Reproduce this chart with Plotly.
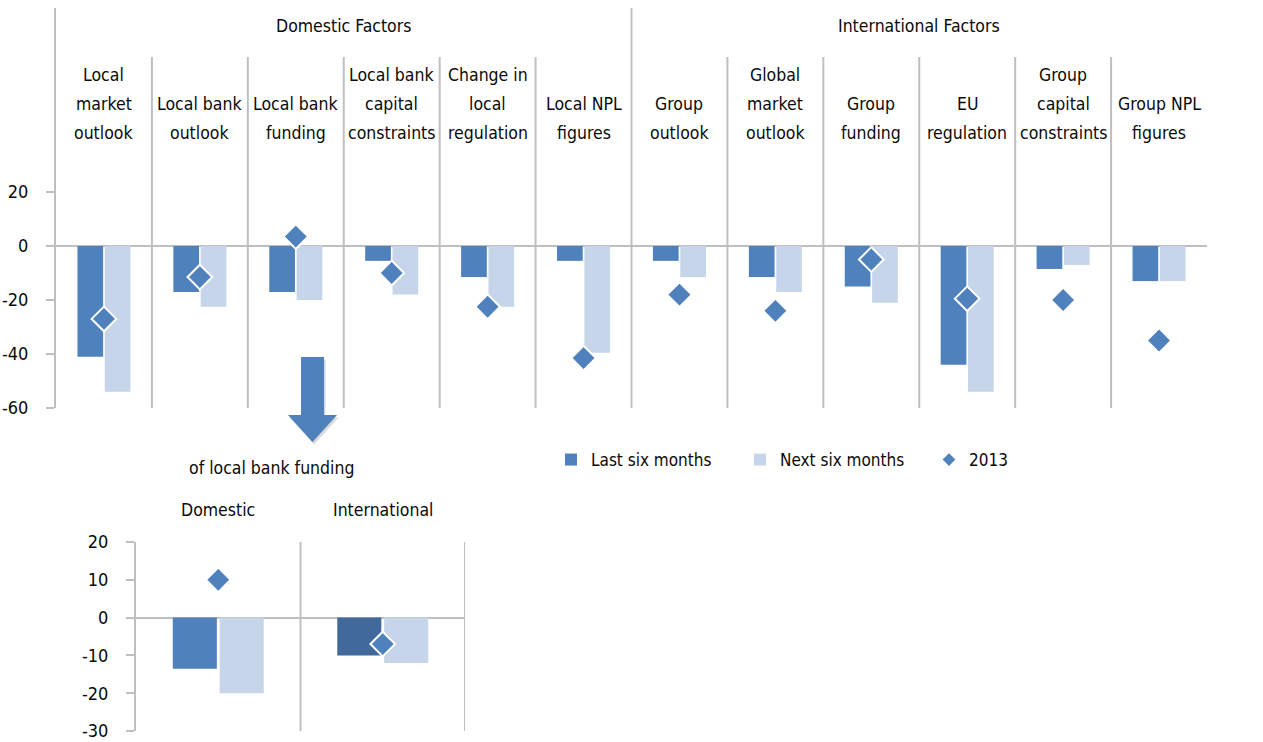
import plotly.graph_objects as go

# ---- data ----
factors = [
    "Local market outlook", "Local bank outlook", "Local bank funding",
    "Local bank capital constraints", "Change in local regulation", "Local NPL figures",
    "Group outlook", "Global market outlook", "Group funding", "EU regulation",
    "Group capital constraints", "Group NPL figures",
]
factor_labels = [
    ["Local", "market", "outlook"], ["Local bank", "outlook"], ["Local bank", "funding"],
    ["Local bank", "capital", "constraints"], ["Change in", "local", "regulation"],
    ["Local NPL", "figures"],
    ["Group", "outlook"], ["Global", "market", "outlook"], ["Group", "funding"],
    ["EU", "regulation"], ["Group", "capital", "constraints"], ["Group NPL", "figures"],
]
last_six = [-41, -17, -17, -5.5, -11.5, -5.5, -5.5, -11.5, -15, -44, -8.5, -13]
next_six = [-54, -22.5, -20, -18, -22.5, -39.5, -11.5, -17, -21, -54, -7, -13]
y2013 = [-27, -11.5, 3.5, -10, -22.5, -41.5, -18, -24, -5, -19.5, -20, -35]
groups = ["Domestic Factors", "International Factors"]

funding_cats = ["Domestic", "International"]
funding_last = [-13.5, -10]
funding_next = [-20, -12]
funding_2013 = [10, -7]

top_ticks = [20, 0, -20, -40, -60]
bottom_ticks = [20, 10, 0, -10, -20, -30]
series_names = ["Last six months", "Next six months", "2013"]

# ---- style ----
W, H = 1263, 742
FONT = "DejaVu Sans Condensed, Liberation Sans Narrow, sans-serif"
FS = 17.5
C_LAST = "#4F81BD"
C_LAST_DARK = "#41699B"
C_NEXT = "#C6D5EA"
C_GRID = "#BFBFBF"
TXT = "#0A0A0A"


def px(x):
    return x / W


def py(y):
    return 1 - y / H


def tfont(size=FS):
    return dict(family=FONT, size=size, color=TXT)


fig = go.Figure()

# top panel
fig.add_trace(go.Bar(x=factors, y=last_six, name=series_names[0], marker_color=C_LAST,
                     xaxis="x", yaxis="y"))
fig.add_trace(go.Bar(x=factors, y=next_six, name=series_names[1], marker_color=C_NEXT,
                     xaxis="x", yaxis="y"))
fig.add_trace(go.Scatter(x=factors, y=y2013, name=series_names[2], mode="markers",
                         marker=dict(symbol="diamond", size=19, color=C_LAST,
                                     line=dict(color="white", width=2)),
                         xaxis="x", yaxis="y"))

# bottom panel
fig.add_trace(go.Bar(x=funding_cats, y=funding_last, showlegend=False,
                     marker_color=[C_LAST, C_LAST_DARK], xaxis="x3", yaxis="y3"))
fig.add_trace(go.Bar(x=funding_cats, y=funding_next, showlegend=False,
                     marker_color=C_NEXT, xaxis="x3", yaxis="y3"))
fig.add_trace(go.Scatter(x=funding_cats, y=funding_2013, mode="markers", showlegend=False,
                         marker=dict(symbol="diamond", size=19, color=C_LAST,
                                     line=dict(color="white", width=2)),
                         xaxis="x3", yaxis="y3"))

# top panel geometry: value -60 at 408px, 20 at 192px, axis runs up to 8px
top_bot_px, top_top_px, zero_px, ppu = 408, 8, 246, 2.7
top_max = (zero_px - top_top_px) / ppu
inner_top = (zero_px - 57) / ppu

yaxis_common = dict(
    showgrid=False, zeroline=True, zerolinecolor=C_GRID, zerolinewidth=2,
    showline=True, linecolor=C_GRID, linewidth=2, automargin=False,
    ticks="outside", ticklen=8, tickcolor=C_GRID, tickwidth=2,
    tickfont=tfont(18), fixedrange=True,
)
xaxis_common = dict(showticklabels=False, showgrid=False, zeroline=False, ticks="",
                    automargin=False, fixedrange=True)

fig.update_layout(
    template="none",
    width=W, height=H,
    margin=dict(l=0, r=0, t=0, b=0, pad=0),
    paper_bgcolor="white", plot_bgcolor="white",
    font=dict(family=FONT, color=TXT),
    barmode="group", bargap=0.43, bargroupgap=0.06,
    xaxis=dict(domain=[px(56), px(1207)], range=[-0.5, 11.5], anchor="y", **xaxis_common),
    yaxis=dict(domain=[py(top_bot_px), py(top_top_px)], range=[-60, top_max], anchor="x",
               tickvals=top_ticks, ticktext=[str(v) for v in top_ticks],
               ticklabelstandoff=14, **yaxis_common),
    yaxis2=dict(overlaying="y", side="right", anchor="x", range=[-60, top_max],
                tickvals=top_ticks, ticktext=[str(v) for v in top_ticks],
                ticklabelstandoff=12, **yaxis_common),
    xaxis3=dict(domain=[px(136), px(465)], range=[-0.5, 1.5], anchor="y3", **xaxis_common),
    yaxis3=dict(domain=[py(731), py(542)], range=[-30, 20], anchor="x3",
                tickvals=bottom_ticks, ticktext=[str(v) for v in bottom_ticks],
                ticklabelstandoff=14, **yaxis_common),
    legend=dict(orientation="h", x=px(551), y=py(460), xanchor="left", yanchor="middle",
                font=tfont(17), itemsizing="constant", itemwidth=30,
                entrywidth=144, entrywidthmode="pixels", traceorder="normal",
                bgcolor="rgba(0,0,0,0)", borderwidth=0),
    showlegend=True,
)

shapes = []
# category separators in the top panel
for k in range(len(factors) - 1):
    top = top_max if k == 5 else inner_top
    shapes.append(dict(type="line", xref="x", yref="y", x0=k + 0.5, x1=k + 0.5,
                       y0=-60, y1=top, line=dict(color=C_GRID, width=2)))
# separators in the bottom panel
for k in range(len(funding_cats)):
    shapes.append(dict(type="line", xref="x3", yref="y3", x0=k + 0.5, x1=k + 0.5,
                       y0=-30, y1=20, line=dict(color=C_GRID, width=2)))


# arrow pointing from "Local bank funding" down to the breakdown panel
def arrow_path(dx=0, dy=0):
    pts = [(301, 357), (324, 357), (324, 415), (337, 415), (312.5, 442),
           (288, 415), (301, 415)]
    return "M " + " L ".join(f"{px(x + dx):.5f},{py(y + dy):.5f}" for x, y in pts) + " Z"


shapes.append(dict(type="path", xref="paper", yref="paper", path=arrow_path(1.5, 2.5),
                   fillcolor="rgba(0,0,0,0.15)", line=dict(width=0), layer="below"))
shapes.append(dict(type="path", xref="paper", yref="paper", path=arrow_path(),
                   fillcolor=C_LAST, line=dict(width=0)))
fig.update_layout(shapes=shapes)

ann = []
# category headers, bottom-aligned, one annotation per text line
LINE_H, LAST_LINE_Y = 29, 133
for cat, lines in zip(factors, factor_labels):
    n = len(lines)
    for i, line in enumerate(lines):
        yl = LAST_LINE_Y - LINE_H * (n - 1 - i)
        ann.append(dict(x=cat, xref="x", y=py(yl), yref="paper", text=line, showarrow=False,
                        xanchor="center", yanchor="middle", font=tfont()))
ann.append(dict(x=2.5, xref="x", y=py(26), yref="paper", text=groups[0], showarrow=False,
                xanchor="center", yanchor="middle", font=tfont()))
ann.append(dict(x=8.5, xref="x", y=py(26), yref="paper", text=groups[1], showarrow=False,
                xanchor="center", yanchor="middle", font=tfont()))
for cat in funding_cats:
    ann.append(dict(x=cat, xref="x3", y=py(510), yref="paper", text=cat, showarrow=False,
                    xanchor="center", yanchor="middle", font=tfont()))
ann.append(dict(x=px(271), xref="paper", y=py(468), yref="paper", text="of local bank funding",
                showarrow=False, xanchor="center", yanchor="middle", font=tfont()))
fig.update_layout(annotations=ann)

fig.write_html("out.html")
